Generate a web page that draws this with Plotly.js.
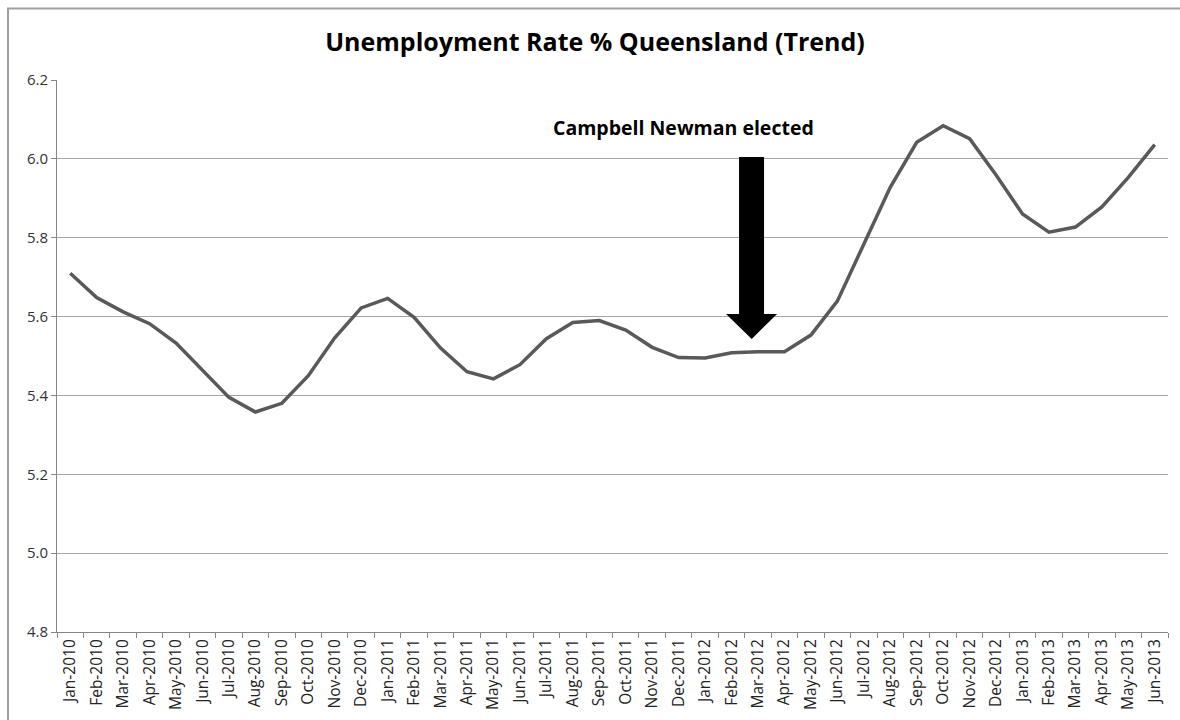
<!DOCTYPE html>
<html>
<head>
<meta charset="utf-8">
<script src="https://cdn.plot.ly/plotly-3.0.1.min.js"></script>
<style>
html,body{margin:0;padding:0;background:#fff;}
#chart{width:1180px;height:720px;}
</style>
</head>
<body>
<div id="chart"></div>
<script>
const months = ["Jan-2010","Feb-2010","Mar-2010","Apr-2010","May-2010","Jun-2010","Jul-2010","Aug-2010","Sep-2010","Oct-2010","Nov-2010","Dec-2010",
"Jan-2011","Feb-2011","Mar-2011","Apr-2011","May-2011","Jun-2011","Jul-2011","Aug-2011","Sep-2011","Oct-2011","Nov-2011","Dec-2011",
"Jan-2012","Feb-2012","Mar-2012","Apr-2012","May-2012","Jun-2012","Jul-2012","Aug-2012","Sep-2012","Oct-2012","Nov-2012","Dec-2012",
"Jan-2013","Feb-2013","Mar-2013","Apr-2013","May-2013","Jun-2013"];
const unemploymentRate = [5.71,5.648,5.612,5.582,5.533,5.465,5.395,5.358,5.38,5.45,5.546,5.622,
5.646,5.598,5.52,5.46,5.442,5.478,5.544,5.585,5.59,5.566,5.522,5.496,
5.495,5.508,5.511,5.511,5.553,5.639,5.783,5.928,6.042,6.084,6.051,5.959,
5.86,5.814,5.827,5.878,5.953,6.036];
const yTicks = [4.8,5.0,5.2,5.4,5.6,5.8,6.0,6.2];
const annotationText = "Campbell Newman elected";
const titleText = "Unemployment Rate % Queensland (Trend)";

const trace = {
  x: months, y: unemploymentRate, type: 'scatter', mode: 'lines',
  line: {color: '#595959', width: 3.5}, hoverinfo: 'x+y'
};

const layout = {
  width: 1180, height: 720,
  margin: {l: 57, r: 12, t: 80, b: 88},
  paper_bgcolor: '#fff', plot_bgcolor: '#fff',
  showlegend: false,
  font: {family: 'Open Sans, Noto Sans, sans-serif', color: '#000'},
  title: {text: '<b>' + titleText + '</b>', x: (595 - 57) / 1111, xref: 'paper', xanchor: 'center', y: 0.942, yanchor: 'middle',
          font: {family: 'Open Sans, sans-serif', size: 25, color: '#000'}},
  xaxis: {
    type: 'category', range: [-0.5, months.length - 0.5],
    tickangle: -90, tickson: 'boundaries', ticks: 'outside', ticklen: 5, tickcolor: '#868686',
    showline: true, linecolor: '#868686', linewidth: 1, showgrid: false, zeroline: false,
    tickfont: {family: 'Open Sans, sans-serif', size: 15.5, color: '#222'}
  },
  yaxis: {
    range: [4.8, 6.2], tickvals: yTicks, ticktext: yTicks.map(v => v.toFixed(1)),
    ticks: 'outside', ticklen: 5, tickcolor: '#868686',
    showline: true, linecolor: '#868686', linewidth: 1,
    showgrid: true, gridcolor: '#a6a6a6', gridwidth: 1, zeroline: false,
    tickfont: {family: 'Open Sans, sans-serif', size: 15, color: '#333'}
  },
  shapes: [
    {type: 'path', xref: 'paper', yref: 'paper', layer: 'above',
     path: 'M -0.0441,-0.2 L -0.0441,1.1295 L 1.02,1.1295',
     line: {color: '#a0a0a0', width: 2}},
    {type: 'path', xref: 'paper', yref: 'paper', layer: 'above',
     path: 'M 0.6139,0.8605 L 0.6364,0.8605 L 0.6364,0.5761 L 0.6481,0.5761 L 0.6253,0.5308 L 0.6022,0.5761 L 0.6139,0.5761 Z',
     fillcolor: '#000', line: {color: '#000', width: 0}}
  ],
  annotations: [
    {text: '<b>' + annotationText + '</b>', xref: 'paper', yref: 'paper',
     x: (684 - 57) / 1111, y: (632 - 127) / 552, xanchor: 'center', yanchor: 'middle', showarrow: false,
     font: {family: 'Open Sans, sans-serif', size: 19.5, color: '#000'}}
  ]
};

Plotly.newPlot('chart', [trace], layout, {displayModeBar: false, staticPlot: true});
</script>
</body>
</html>
